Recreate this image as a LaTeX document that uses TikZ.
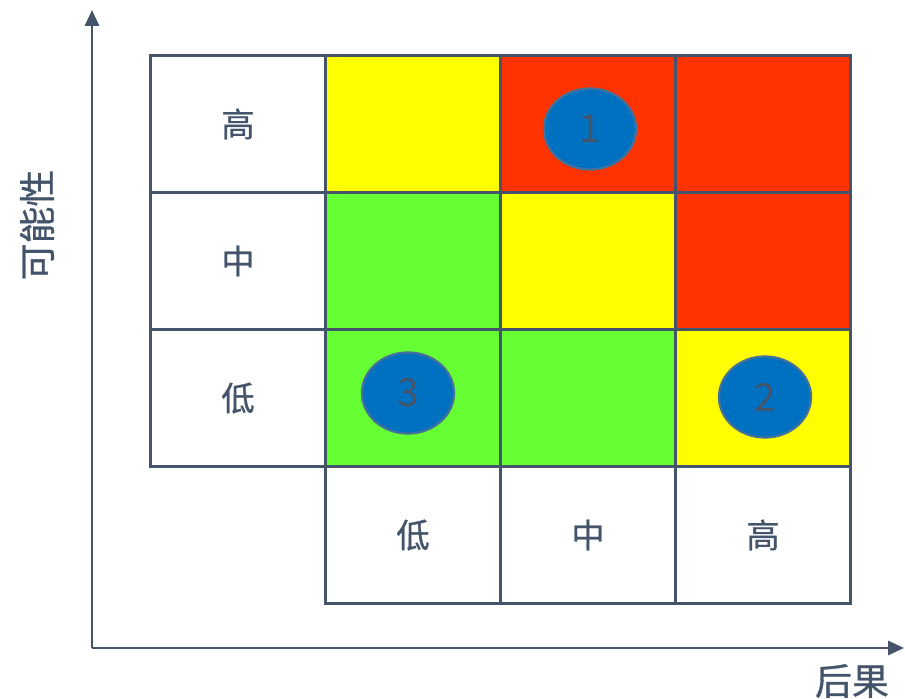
\documentclass[tikz,border=0pt]{standalone}
\usepackage{fontspec}
\setmainfont{Noto Sans CJK SC}
\usetikzlibrary{shapes.geometric,arrows.meta}

\definecolor{inkgray}{HTML}{44546A}
\definecolor{riskred}{HTML}{FF3300}
\definecolor{riskyellow}{HTML}{FFFF00}
\definecolor{riskgreen}{HTML}{66FF33}
\definecolor{markblue}{HTML}{0070C0}
\definecolor{markedge}{HTML}{41719C}

\newcommand{\lvl}[1]{\raisebox{-0.08cm}{\addfontfeature{FakeBold=0.8}#1}}

\begin{document}
\begin{tikzpicture}[
  x=0.02cm, y=-0.02cm,
  cell/.style={rectangle, draw=inkgray, line width=1.4pt, minimum width=3.5cm, minimum height=2.74cm,
    inner sep=0pt, text=inkgray, font=\fontsize{19}{19}\selectfont},
  riskmark/.style={ellipse, fill=markblue, draw=markedge, line width=1.3pt, minimum width=1.84cm,
    minimum height=1.62cm, inner sep=0pt, text=inkgray, font=\fontsize{22}{22}\selectfont},
  axis/.style={draw=inkgray, line width=1.4pt, -{Triangle[length=9pt,width=8pt]}},
  axislabel/.style={text=inkgray, font=\fontsize{21}{21}\selectfont\addfontfeature{FakeBold=0.8}, inner sep=0pt}
]
  \useasboundingbox (0,0) rectangle (905,699);

  % Axes
  \coordinate (origin) at (92,648);
  \coordinate (ytop) at (92,10);
  \coordinate (xend) at (904,648);
  \draw[axis] (origin) -- (ytop);
  \draw[axis] (origin) -- (xend);
  \node[axislabel, rotate=90] (ylab) at (37,225) {可能性};
  \node[axislabel] (xlab) at (852,681) {后果};

  % Likelihood labels (left column)
  \node[cell] (lh) at (238,124) {\lvl{高}};
  \node[cell] (lm) at (238,261) {\lvl{中}};
  \node[cell] (ll) at (238,398) {\lvl{低}};

  % Risk matrix: rows high/mid/low, columns low/mid/high
  \node[cell, fill=riskyellow] (hl) at (413,124) {};
  \node[cell, fill=riskred]    (hm) at (588,124) {};
  \node[cell, fill=riskred]    (hh) at (763,124) {};

  \node[cell, fill=riskgreen]  (ml) at (413,261) {};
  \node[cell, fill=riskyellow] (mm) at (588,261) {};
  \node[cell, fill=riskred]    (mh) at (763,261) {};

  \node[cell, fill=riskgreen]  (ll2) at (413,398) {};
  \node[cell, fill=riskgreen]  (lm2) at (588,398) {};
  \node[cell, fill=riskyellow] (lh2) at (763,398) {};

  % Consequence labels (bottom row)
  \node[cell] (cl) at (413,535) {\lvl{低}};
  \node[cell] (cm) at (588,535) {\lvl{中}};
  \node[cell] (ch) at (763,535) {\lvl{高}};

  % Risk markers
  \node[riskmark] (r1) at (590,129) {1};
  \node[riskmark] (r3) at (408,393) {3};
  \node[riskmark] (r2) at (765,397) {2};

\end{tikzpicture}
\end{document}
